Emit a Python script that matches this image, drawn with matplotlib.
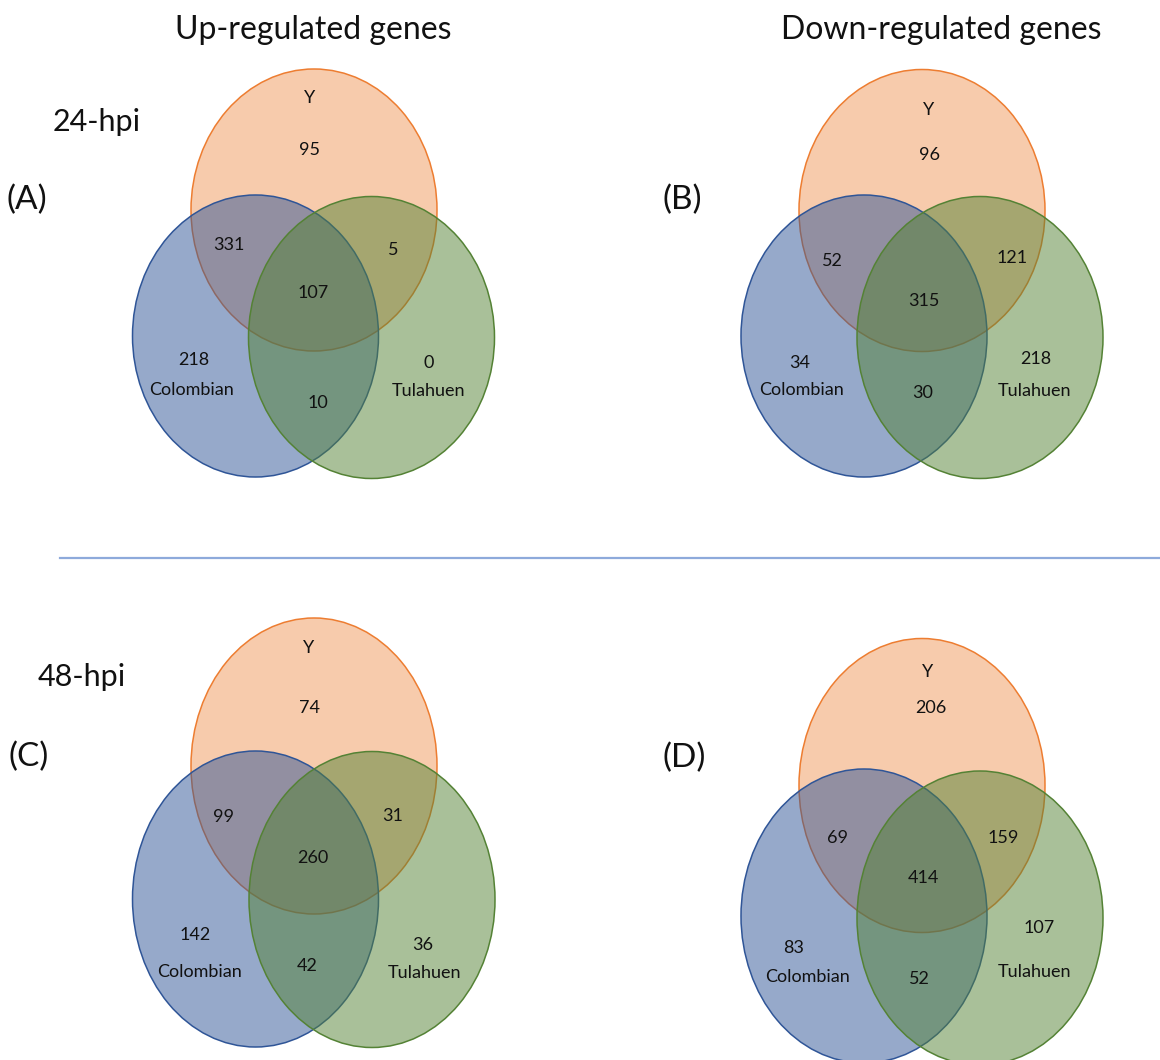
import matplotlib.pyplot as plt
from matplotlib.colors import to_rgba
from matplotlib.patches import Ellipse

plt.rcParams['font.family'] = ['Lato', 'DejaVu Sans']

# region order: Y only, Y∩Colombian, Y∩Tulahuen, all three, Colombian only, Colombian∩Tulahuen, Tulahuen only
up_24 = [95, 331, 5, 107, 218, 10, 0]
down_24 = [96, 52, 121, 315, 34, 30, 218]
up_48 = [74, 99, 31, 260, 142, 42, 36]
down_48 = [206, 69, 159, 414, 83, 52, 107]
panel_tags = ['(A)', '(B)', '(C)', '(D)']
set_names = ['Y', 'Colombian', 'Tulahuen']
col_titles = ['Up-regulated genes', 'Down-regulated genes']
row_titles = ['24-hpi', '48-hpi']

# circle colours: Y, Colombian, Tulahuen
face = ['#ED7D31', '#2F5597', '#548235']
face_alpha = [0.4, 0.5, 0.5]
edge = ['#ED7D31', '#2F5597', '#548235']

# ellipse centres (Y, Colombian, Tulahuen) and size for each panel, in pixels
centres = [
    [(314, 210), (255.5, 336), (371.5, 337.5)],
    [(922, 210.5), (864, 336), (980, 337.5)],
    [(314, 766), (255.5, 899), (372, 899.5)],
    [(922, 785.5), (864, 916), (980, 918)],
]
sizes = [(246, 282), (246, 282), (246, 296), (246, 294)]

# text positions for the seven counts, then set names (Y, Colombian, Tulahuen)
count_pos = [
    [(310, 150), (229, 245), (393, 250), (313, 293), (194, 360), (318, 403), (429, 363)],
    [(930, 155), (832, 261), (1012, 258), (924, 301), (800, 363), (923, 393), (1036, 359)],
    [(310, 708), (224, 817), (393, 816), (313, 858), (195, 935), (307, 966), (423, 945)],
    [(931, 708), (838, 838), (1003, 838), (923, 878), (794, 948), (919, 979), (1039, 928)],
]
name_pos = [
    [(310, 98), (192, 390), (428, 391)],
    [(929, 110), (802, 390), (1034, 391)],
    [(309, 648), (199, 972), (424, 973)],
    [(928, 672), (808, 977), (1035, 972)],
]
tag_pos = [(7, 200), (662, 200), (8, 757), (662, 758)]

fig = plt.figure(figsize=(11.6, 10.6), dpi=100)
ax = fig.add_axes([0, 0, 1, 1])
ax.set_xlim(0, 1160)
ax.set_ylim(1060, 0)
ax.axis('off')

all_counts = [up_24, down_24, up_48, down_48]
for p, counts in enumerate(all_counts):
    w, h = sizes[p]
    for k in range(3):
        ax.add_patch(Ellipse(centres[p][k], w, h,
                             fc=to_rgba(face[k], face_alpha[k]),
                             ec=edge[k], lw=1.1))
    for val, (x, y) in zip(counts, count_pos[p]):
        ax.text(x, y, str(val), ha='center', va='center', fontsize=13, color='#111111')
    for name, (x, y) in zip(set_names, name_pos[p]):
        ax.text(x, y, name, ha='center', va='center', fontsize=13, color='#111111')
    ax.text(tag_pos[p][0], tag_pos[p][1], panel_tags[p], ha='left', va='center',
            fontsize=24, color='#111111')

ax.text(313, 30, col_titles[0], ha='center', va='center', fontsize=23, color='#111111')
ax.text(941, 30, col_titles[1], ha='center', va='center', fontsize=23, color='#111111')
ax.text(53, 122, row_titles[0], ha='left', va='center', fontsize=22, color='#111111')
ax.text(38, 677, row_titles[1], ha='left', va='center', fontsize=22, color='#111111')

# separator between the two time points
ax.plot([60, 1160], [558, 558], color='#8EAADB', lw=1.6)

fig.savefig('out.png', dpi=100)
